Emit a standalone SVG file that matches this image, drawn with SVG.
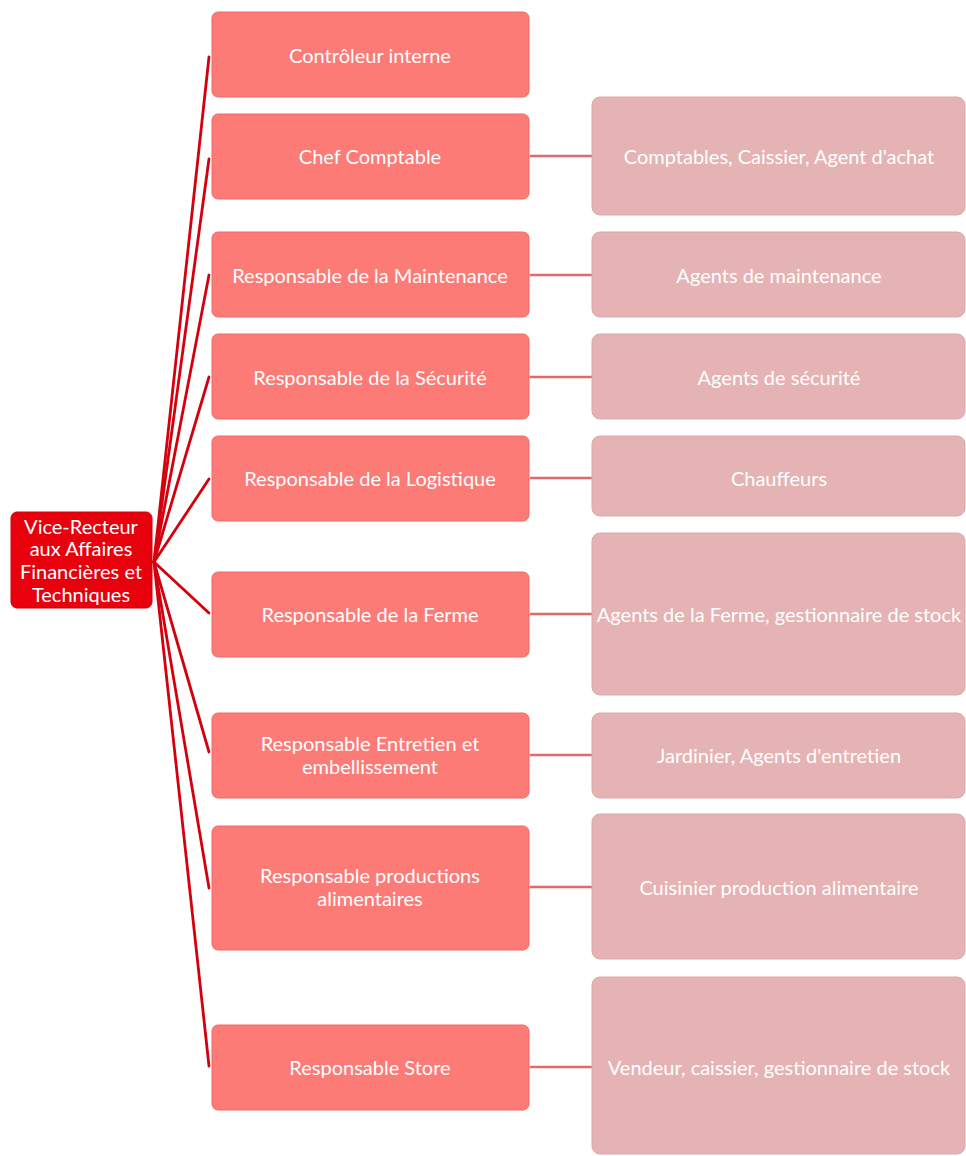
<svg xmlns="http://www.w3.org/2000/svg" width="966" height="1156" viewBox="0 0 966 1156">
<style>
.mid{fill:#fd7b77;stroke:#f06a66;stroke-width:1}
.sub{fill:#e5b3b4;stroke:#dca8a9;stroke-width:1}
.root{fill:#e8000c;stroke:#d00008;stroke-width:1}
text{font-family:Lato,"Open Sans","Liberation Sans",sans-serif;fill:#ffffff;text-anchor:middle;dominant-baseline:central;font-size:20px}
.rt{font-size:20px}
.fan{stroke:#d4000e;stroke-width:2.8;fill:none;stroke-linecap:round}
.link{stroke:#e2696a;stroke-width:2.5;fill:none}
</style>
<rect width="966" height="1156" fill="#ffffff"/>
<g id="connectors">
<path class="fan" d="M154 562 L209 57"/>
<path class="fan" d="M154 562 L209 159"/>
<path class="fan" d="M154 562 L209 275"/>
<path class="fan" d="M154 562 L209 377"/>
<path class="fan" d="M154 562 L209 479"/>
<path class="fan" d="M154 562 L209 613"/>
<path class="fan" d="M154 562 L209 752"/>
<path class="fan" d="M154 562 L209 888"/>
<path class="fan" d="M154 562 L209 1066"/>
<path class="link" d="M530 156 H592"/>
<path class="link" d="M530 275 H592"/>
<path class="link" d="M530 377 H592"/>
<path class="link" d="M530 478 H592"/>
<path class="link" d="M530 614 H592"/>
<path class="link" d="M530 755 H592"/>
<path class="link" d="M530 887 H592"/>
<path class="link" d="M530 1067 H592"/>
</g>
<g id="root">
<rect class="root" x="11" y="512" width="141" height="96" rx="6"/>
<text class="rt" x="81" y="526">Vice-Recteur</text>
<text class="rt" x="81" y="548">aux Affaires</text>
<text class="rt" x="81" y="571">Financières et</text>
<text class="rt" x="81" y="594">Techniques</text>
</g>
<g id="n1"><rect class="mid" x="212" y="12" width="317" height="85" rx="6"/><text x="370" y="55">Contrôleur interne</text></g>
<g id="n2"><rect class="mid" x="212" y="114" width="317" height="85" rx="6"/><text x="370" y="156">Chef Comptable</text></g>
<g id="n3"><rect class="mid" x="212" y="232" width="317" height="85" rx="6"/><text x="370" y="275">Responsable de la Maintenance</text></g>
<g id="n4"><rect class="mid" x="212" y="334" width="317" height="85" rx="6"/><text x="370" y="377">Responsable de la Sécurité</text></g>
<g id="n5"><rect class="mid" x="212" y="436" width="317" height="85" rx="6"/><text x="370" y="478">Responsable de la Logistique</text></g>
<g id="n6"><rect class="mid" x="212" y="572" width="317" height="85" rx="6"/><text x="370" y="614">Responsable de la Ferme</text></g>
<g id="n7"><rect class="mid" x="212" y="713" width="317" height="85" rx="6"/><text x="370" y="743">Responsable Entretien et</text><text x="370" y="766">embellissement</text></g>
<g id="n8"><rect class="mid" x="212" y="826" width="317" height="124" rx="6"/><text x="370" y="875">Responsable productions</text><text x="370" y="898">alimentaires</text></g>
<g id="n9"><rect class="mid" x="212" y="1025" width="317" height="85" rx="6"/><text x="370" y="1067">Responsable Store</text></g>
<g id="s2"><rect class="sub" x="592" y="97" width="373" height="118" rx="8"/><text x="779" y="156">Comptables, Caissier, Agent d'achat</text></g>
<g id="s3"><rect class="sub" x="592" y="232" width="373" height="85" rx="8"/><text x="779" y="275">Agents de maintenance</text></g>
<g id="s4"><rect class="sub" x="592" y="334" width="373" height="85" rx="8"/><text x="779" y="377">Agents de sécurité</text></g>
<g id="s5"><rect class="sub" x="592" y="436" width="373" height="80" rx="8"/><text x="779" y="478">Chauffeurs</text></g>
<g id="s6"><rect class="sub" x="592" y="533" width="373" height="162" rx="8"/><text x="779" y="614">Agents de la Ferme, gestionnaire de stock</text></g>
<g id="s7"><rect class="sub" x="592" y="713" width="373" height="85" rx="8"/><text x="779" y="755">Jardinier, Agents d'entretien</text></g>
<g id="s8"><rect class="sub" x="592" y="814" width="373" height="145" rx="8"/><text x="779" y="887">Cuisinier production alimentaire</text></g>
<g id="s9"><rect class="sub" x="592" y="977" width="373" height="177" rx="8"/><text x="779" y="1067">Vendeur, caissier, gestionnaire de stock</text></g>
</svg>
